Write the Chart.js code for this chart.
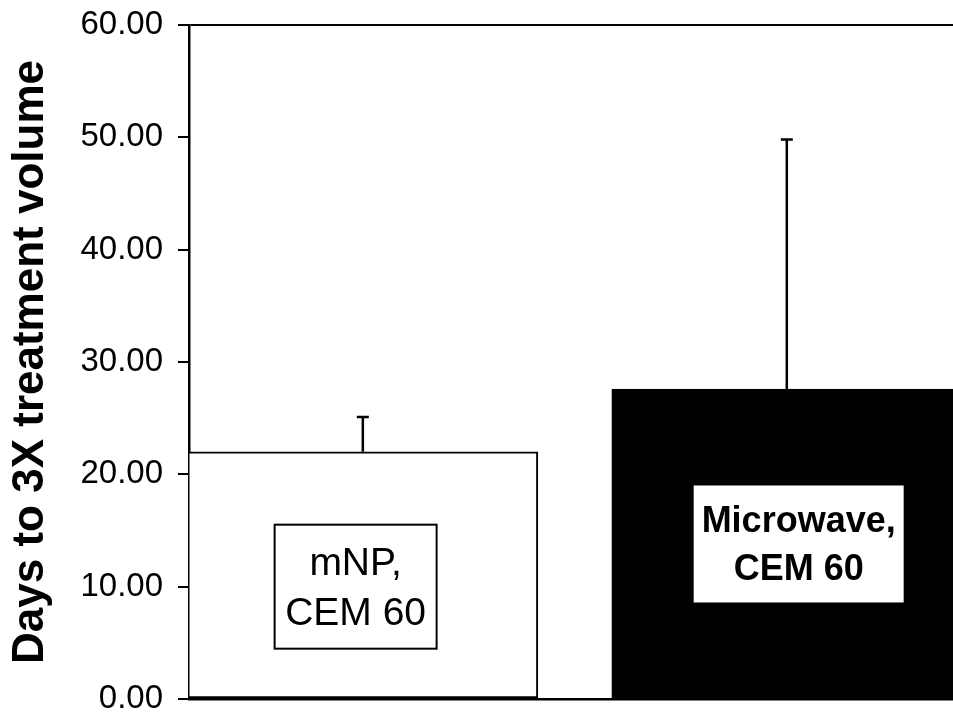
<!DOCTYPE html>
<html>
<head>
<meta charset="utf-8">
<script src="https://cdn.jsdelivr.net/npm/chart.js@4/dist/chart.umd.min.js"></script>
<style>
  html, body { margin: 0; padding: 0; background: #fff; }
  #wrap { width: 953px; height: 713px; }
</style>
</head>
<body>
<div id="wrap"><canvas id="daysChart" width="953" height="713"></canvas></div>
<script>
const categories = [['mNP,', 'CEM 60'], ['Microwave,', 'CEM 60']];
const means = [22.0, 27.6];
const errors = [3.1, 22.2];
const yTicks = [0, 10, 20, 30, 40, 50, 60];

// where the label boxes sit (data units) and how they look
const boxes = [
  { dx: -0.017, y: 10.0, w: 162, h: 124, font: '39px "Liberation Sans", Arial, sans-serif', border: true, lines: [-12, 38] },
  { dx: 0.028, y: 13.8, w: 210, h: 117, font: 'bold 36px "Liberation Sans", Arial, sans-serif', border: false, lines: [-12, 36] }
];

const overlay = {
  id: 'overlay',
  afterDatasetsDraw(chart) {
    const ctx = chart.ctx;
    const y = chart.scales.y;
    const x = chart.scales.x;
    const bars = chart.getDatasetMeta(0).data;
    ctx.save();
    // error bars (upper only)
    ctx.strokeStyle = '#000';
    ctx.lineWidth = 2.5;
    bars.forEach((bar, i) => {
      const top = y.getPixelForValue(means[i] + errors[i]);
      ctx.beginPath();
      ctx.moveTo(bar.x, bar.y);
      ctx.lineTo(bar.x, top);
      ctx.moveTo(bar.x - 6, top);
      ctx.lineTo(bar.x + 6, top);
      ctx.stroke();
    });
    // label boxes
    boxes.forEach((b, i) => {
      const cx = x.getPixelForValue(i + b.dx);
      const cy = y.getPixelForValue(b.y);
      ctx.fillStyle = '#fff';
      ctx.fillRect(cx - b.w / 2, cy - b.h / 2, b.w, b.h);
      if (b.border) {
        ctx.lineWidth = 2;
        ctx.strokeStyle = '#000';
        ctx.strokeRect(cx - b.w / 2, cy - b.h / 2, b.w, b.h);
      }
      ctx.fillStyle = '#000';
      ctx.font = b.font;
      ctx.textAlign = 'center';
      ctx.textBaseline = 'alphabetic';
      categories[i].forEach((line, k) => {
        ctx.fillText(line, cx, cy + b.lines[k]);
      });
    });
    ctx.restore();
  }
};

new Chart(document.getElementById('daysChart').getContext('2d'), {
  type: 'bar',
  data: {
    datasets: [{
      label: 'Days to 3X treatment volume',
      data: means.map((v, i) => ({ x: i, y: v })),
      backgroundColor: ['#ffffff', '#000000'],
      borderColor: '#000',
      borderWidth: 2,
      borderSkipped: false,
      barThickness: 350
    }]
  },
  options: {
    responsive: false,
    animation: false,
    layout: { padding: { top: 25, right: 0, bottom: 6, left: 0 } },
    scales: {
      x: {
        type: 'linear',
        min: -0.41,
        max: 1.392,
        offset: false,
        ticks: { display: false },
        grid: { display: false },
        border: { display: true, color: '#000', width: 2.5 }
      },
      y: {
        min: 0,
        max: 60,
        afterBuildTicks: scale => { scale.ticks = yTicks.map(v => ({ value: v })); },
        afterFit: scale => {
          scale.width = 189;
          scale.paddingTop = 0;
          scale.paddingBottom = 0;
        },
        ticks: {
          padding: 15,
          color: '#000',
          font: { family: '"Liberation Sans", Arial, sans-serif', size: 33 },
          callback: v => v.toFixed(2)
        },
        grid: {
          drawOnChartArea: true,
          color: c => (c.tick && c.tick.value === 60) ? '#000' : 'rgba(0,0,0,0)',
          tickColor: '#000',
          tickLength: 11,
          lineWidth: 2
        },
        border: { display: true, color: '#000', width: 2.5 },
        title: {
          display: true,
          text: 'Days to 3X treatment volume',
          color: '#000',
          font: { family: '"Liberation Sans", Arial, sans-serif', size: 44, weight: 'bold' },
          padding: { top: 4, bottom: 0 }
        }
      }
    },
    plugins: {
      legend: { display: false },
      tooltip: { enabled: false }
    }
  },
  plugins: [overlay]
});
</script>
</body>
</html>
